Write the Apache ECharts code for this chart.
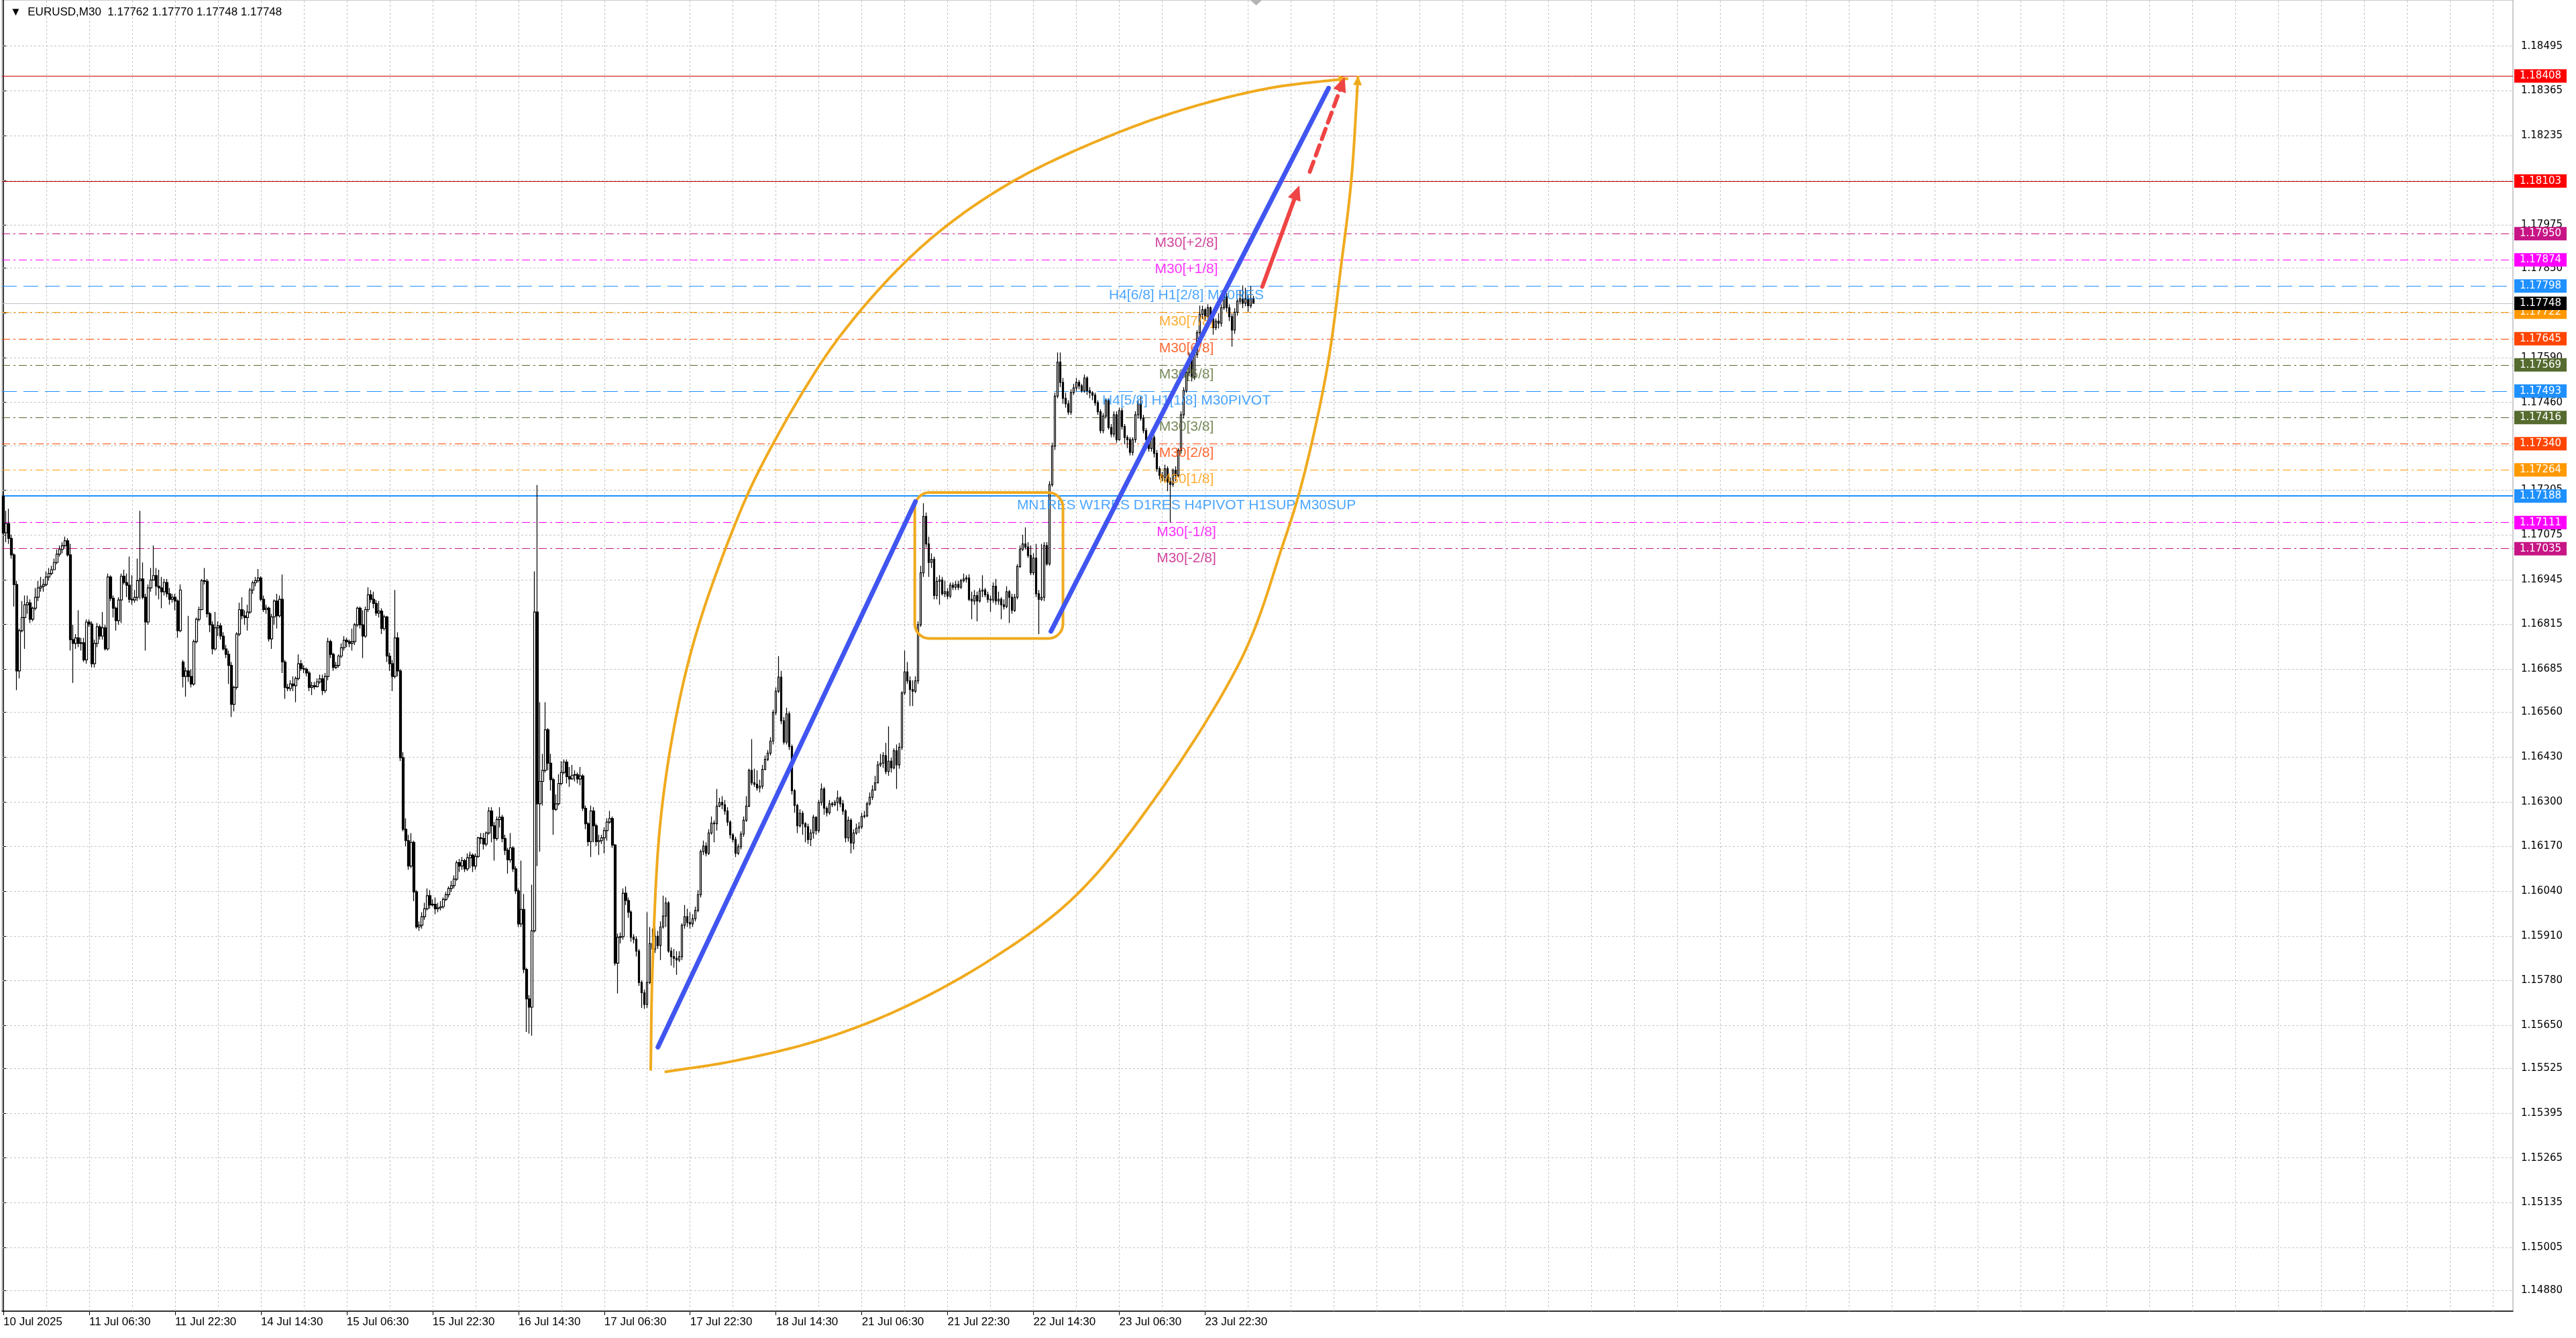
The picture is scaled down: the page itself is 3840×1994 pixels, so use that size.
<!DOCTYPE html>
<html>
<head>
<meta charset="utf-8">
<title>EURUSD,M30</title>
<script src="https://cdn.jsdelivr.net/npm/echarts@6.0.0/dist/echarts.min.js"></script>
<style>
  html, body { margin: 0; padding: 0; background: #ffffff; }
  #chart { width: 3840px; height: 1994px; }
</style>
</head>
<body>
<div id="chart"></div>
<script>
// header quote: open, high, low, close of the last bar
const symbolName = 'EURUSD';
const periodName = 'M30';
const quote = [1.17762, 1.17770, 1.17748, 1.17748];

// time axis labels (one every 32 bars of 30 min)
const timeLabelBars = [0, 32, 64, 96, 128, 160, 192, 224, 256, 288, 320, 352, 384, 416, 448];
const timeLabels = ['10 Jul 2025', '11 Jul 06:30', '11 Jul 22:30', '14 Jul 14:30', '15 Jul 06:30',
  '15 Jul 22:30', '16 Jul 14:30', '17 Jul 06:30', '17 Jul 22:30', '18 Jul 14:30',
  '21 Jul 06:30', '21 Jul 22:30', '22 Jul 14:30', '23 Jul 06:30', '23 Jul 22:30'];
const slotCount = 936;   // bar slots across the window (bars + empty shift space)
const gridStep = 16;     // vertical grid every 16 bars

// price scale
const priceTop = 1.18629;
const priceBottom = 1.1482;
const yTickLabels = ['1.14880', '1.15005', '1.15135', '1.15265', '1.15395', '1.15525', '1.15650',
  '1.15780', '1.15910', '1.16040', '1.16170', '1.16300', '1.16430', '1.16560', '1.16685', '1.16815',
  '1.16945', '1.17075', '1.17205', '1.17335', '1.17460', '1.17590', '1.17720', '1.17850', '1.17975',
  '1.18105', '1.18235', '1.18365', '1.18495'];

// candles
const open = [
1.17188,1.17081,1.17108,1.17065,1.17017,1.16931,1.16680,1.16797,1.16835,1.16872,
1.16878,1.16830,1.16862,1.16894,1.16921,1.16926,1.16931,1.16953,1.16963,1.16974,
1.16995,1.17019,1.17033,1.17044,1.17058,1.17017,1.16771,1.16760,1.16776,1.16760,
1.16762,1.16712,1.16822,1.16816,1.16701,1.16760,1.16808,1.16781,1.16805,1.16744,
1.16953,1.16891,1.16862,1.16826,1.16886,1.16955,1.16937,1.16929,1.16888,1.16886,
1.16894,1.16942,1.16947,1.16894,1.16822,1.16921,1.16944,1.16957,1.16926,1.16921,
1.16910,1.16937,1.16904,1.16888,1.16894,1.16883,1.16797,1.16706,1.16664,1.16680,
1.16664,1.16642,1.16765,1.16830,1.16858,1.16942,1.16940,1.16846,1.16814,1.16744,
1.16805,1.16811,1.16781,1.16744,1.16728,1.16696,1.16583,1.16632,1.16787,1.16858,
1.16840,1.16835,1.16851,1.16915,1.16936,1.16942,1.16950,1.16888,1.16858,1.16862,
1.16773,1.16837,1.16883,1.16840,1.16888,1.16706,1.16632,1.16629,1.16642,1.16637,
1.16658,1.16701,1.16687,1.16685,1.16674,1.16632,1.16637,1.16634,1.16648,1.16657,
1.16623,1.16664,1.16765,1.16728,1.16690,1.16696,1.16723,1.16747,1.16769,1.16765,
1.16760,1.16765,1.16814,1.16862,1.16814,1.16781,1.16858,1.16901,1.16888,1.16876,
1.16848,1.16854,1.16803,1.16837,1.16723,1.16701,1.16664,1.16776,1.16680,1.16428,
1.16220,1.16187,1.16113,1.16182,1.16038,1.15936,1.15941,1.15966,1.15989,1.16027,
1.16000,1.16002,1.15989,1.15992,1.15995,1.16016,1.16030,1.16048,1.16056,1.16075,
1.16123,1.16113,1.16129,1.16105,1.16137,1.16145,1.16113,1.16141,1.16195,1.16193,
1.16177,1.16209,1.16273,1.16230,1.16193,1.16248,1.16255,1.16193,1.16159,1.16131,
1.16166,1.16105,1.16041,1.15945,1.15987,1.15813,1.15727,1.15703,1.15925,1.16851,
1.16294,1.16359,1.16391,1.16509,1.16412,1.16364,1.16278,1.16294,1.16353,1.16385,
1.16415,1.16373,1.16366,1.16377,1.16379,1.16366,1.16375,1.16281,1.16236,1.16184,
1.16273,1.16230,1.16184,1.16187,1.16195,1.16216,1.16241,1.16251,1.16174,1.15831,
1.15906,1.15908,1.16034,1.16013,1.15979,1.15906,1.15900,1.15866,1.15775,1.15745,
1.15711,1.15775,1.15888,1.15872,1.15909,1.15882,1.15936,1.15968,1.16006,1.15866,
1.15850,1.15845,1.15840,1.15850,1.15941,1.15966,1.15949,1.15945,1.15960,1.15984,
1.16030,1.16155,1.16171,1.16150,1.16209,1.16238,1.16236,1.16287,1.16298,1.16291,
1.16273,1.16241,1.16204,1.16190,1.16150,1.16169,1.16206,1.16246,1.16287,1.16391,
1.16355,1.16351,1.16340,1.16345,1.16394,1.16423,1.16441,1.16476,1.16559,1.16621,
1.16662,1.16535,1.16473,1.16555,1.16460,1.16332,1.16289,1.16230,1.16266,1.16236,
1.16227,1.16190,1.16209,1.16255,1.16216,1.16298,1.16337,1.16281,1.16268,1.16294,
1.16291,1.16298,1.16311,1.16294,1.16273,1.16195,1.16246,1.16180,1.16209,1.16223,
1.16227,1.16257,1.16259,1.16294,1.16313,1.16334,1.16355,1.16407,1.16412,1.16434,
1.16388,1.16418,1.16398,1.16448,1.16407,1.16458,1.16616,1.16677,1.16651,1.16626,
1.16621,1.16651,1.16814,1.16965,1.17129,1.17049,1.16995,1.17004,1.16899,1.16940,
1.16944,1.16904,1.16910,1.16897,1.16929,1.16923,1.16931,1.16923,1.16942,1.16947,
1.16950,1.16888,1.16883,1.16899,1.16883,1.16912,1.16915,1.16901,1.16888,1.16886,
1.16926,1.16883,1.16888,1.16872,1.16867,1.16910,1.16894,1.16856,1.16894,1.16983,
1.17033,1.17049,1.17040,1.17015,1.16965,1.17008,1.16904,1.16888,1.16894,1.17044,
1.16991,1.17221,1.17333,1.17478,1.17577,1.17518,1.17472,1.17456,1.17432,1.17489,
1.17502,1.17518,1.17508,1.17494,1.17531,1.17494,1.17488,1.17481,1.17459,1.17433,
1.17378,1.17420,1.17465,1.17387,1.17368,1.17424,1.17352,1.17436,1.17390,1.17358,
1.17352,1.17315,1.17352,1.17424,1.17456,1.17414,1.17378,1.17352,1.17326,1.17358,
1.17312,1.17267,1.17248,1.17242,1.17267,1.17229,1.17222,1.17263,1.17248,1.17320,
1.17424,1.17495,1.17547,1.17586,1.17534,1.17599,1.17663,1.17716,1.17729,1.17709,
1.17735,1.17703,1.17677,1.17696,1.17690,1.17735,1.17767,1.17735,1.17709,1.17670,
1.17722,1.17754,1.17761,1.17748,1.17761,1.17741,1.17762];

const high = [
1.17199,1.17145,1.17151,1.17076,1.17022,1.16942,1.16803,1.16883,1.16899,1.16899,
1.16888,1.16867,1.16921,1.16942,1.16953,1.16947,1.16969,1.16979,1.16985,1.17006,
1.17033,1.17044,1.17054,1.17070,1.17065,1.17049,1.16814,1.16787,1.16856,1.16776,
1.16776,1.16830,1.16830,1.16824,1.16771,1.16819,1.16814,1.16851,1.16814,1.16963,
1.16958,1.16899,1.16867,1.16894,1.16963,1.16974,1.16963,1.17012,1.16958,1.16915,
1.17006,1.17145,1.16995,1.16904,1.16931,1.16979,1.17044,1.16979,1.16974,1.16953,
1.16947,1.16947,1.16921,1.16904,1.16904,1.16888,1.16931,1.16712,1.16690,1.16840,
1.16685,1.16771,1.16835,1.16867,1.16947,1.16979,1.16947,1.16851,1.16824,1.16851,
1.16824,1.16819,1.16792,1.16755,1.16739,1.16706,1.16637,1.16792,1.16878,1.16894,
1.16856,1.16872,1.16921,1.16942,1.16953,1.16976,1.16955,1.16899,1.16872,1.16867,
1.16846,1.16888,1.16904,1.16899,1.16960,1.16712,1.16642,1.16653,1.16664,1.16664,
1.16728,1.16712,1.16696,1.16690,1.16680,1.16648,1.16648,1.16658,1.16669,1.16669,
1.16674,1.16776,1.16771,1.16733,1.16706,1.16728,1.16760,1.16781,1.16776,1.16771,
1.16803,1.16819,1.16867,1.16867,1.16856,1.16867,1.16923,1.16915,1.16910,1.16886,
1.16883,1.16862,1.16843,1.16840,1.16733,1.16712,1.16915,1.16792,1.16685,1.16444,
1.16252,1.16204,1.16209,1.16187,1.16043,1.15952,1.15979,1.16006,1.16048,1.16043,
1.16016,1.16022,1.16006,1.16011,1.16022,1.16038,1.16054,1.16070,1.16086,1.16129,
1.16134,1.16139,1.16134,1.16150,1.16155,1.16150,1.16150,1.16198,1.16209,1.16209,
1.16214,1.16284,1.16284,1.16241,1.16257,1.16284,1.16262,1.16204,1.16166,1.16209,
1.16171,1.16113,1.16048,1.16129,1.16032,1.15818,1.15738,1.16059,1.16969,1.17220,
1.16589,1.16439,1.16589,1.16514,1.16439,1.16369,1.16321,1.16380,1.16418,1.16423,
1.16423,1.16401,1.16407,1.16391,1.16385,1.16401,1.16380,1.16289,1.16241,1.16289,
1.16284,1.16236,1.16204,1.16204,1.16225,1.16252,1.16273,1.16257,1.16177,1.15917,
1.15920,1.16048,1.16054,1.16022,1.15984,1.15915,1.15909,1.15872,1.15781,1.15754,
1.15979,1.15936,1.15931,1.15936,1.15925,1.15952,1.16027,1.16022,1.16011,1.15877,
1.15872,1.15866,1.15866,1.15947,1.16000,1.15989,1.15979,1.15973,1.15995,1.16043,
1.16161,1.16187,1.16182,1.16220,1.16257,1.16246,1.16337,1.16311,1.16316,1.16305,
1.16284,1.16246,1.16209,1.16198,1.16177,1.16214,1.16257,1.16316,1.16396,1.16482,
1.16396,1.16391,1.16364,1.16407,1.16434,1.16450,1.16487,1.16567,1.16632,1.16723,
1.16680,1.16546,1.16573,1.16562,1.16466,1.16337,1.16294,1.16278,1.16273,1.16241,
1.16236,1.16220,1.16262,1.16257,1.16305,1.16353,1.16343,1.16287,1.16305,1.16300,
1.16305,1.16332,1.16316,1.16305,1.16278,1.16257,1.16252,1.16220,1.16236,1.16241,
1.16268,1.16273,1.16300,1.16327,1.16348,1.16375,1.16418,1.16439,1.16444,1.16471,
1.16519,1.16428,1.16455,1.16466,1.16471,1.16621,1.16739,1.16706,1.16664,1.16653,
1.16664,1.16824,1.16985,1.17167,1.17140,1.17070,1.17022,1.17012,1.16953,1.16958,
1.16953,1.16942,1.16921,1.16937,1.16937,1.16942,1.16942,1.16947,1.16963,1.16958,
1.16961,1.16910,1.16915,1.16910,1.16921,1.16958,1.16921,1.16910,1.16899,1.16937,
1.16947,1.16910,1.16894,1.16888,1.16926,1.16915,1.16904,1.16904,1.16990,1.17044,
1.17076,1.17097,1.17054,1.17044,1.17022,1.17049,1.16915,1.17049,1.17054,1.17054,
1.17231,1.17343,1.17488,1.17605,1.17605,1.17531,1.17488,1.17466,1.17498,1.17514,
1.17531,1.17525,1.17514,1.17541,1.17536,1.17504,1.17493,1.17488,1.17466,1.17440,
1.17429,1.17472,1.17472,1.17397,1.17434,1.17434,1.17445,1.17445,1.17397,1.17365,
1.17359,1.17359,1.17434,1.17466,1.17477,1.17424,1.17386,1.17359,1.17370,1.17365,
1.17322,1.17274,1.17258,1.17279,1.17274,1.17242,1.17268,1.17274,1.17327,1.17434,
1.17504,1.17557,1.17605,1.17595,1.17605,1.17670,1.17741,1.17741,1.17734,1.17745,
1.17739,1.17712,1.17704,1.17718,1.17745,1.17775,1.17777,1.17745,1.17718,1.17734,
1.17761,1.17787,1.17800,1.17793,1.17771,1.17798,1.17770];

const low = [
1.17076,1.17054,1.17049,1.17006,1.16867,1.16624,1.16658,1.16792,1.16744,1.16846,
1.16819,1.16824,1.16856,1.16883,1.16910,1.16910,1.16926,1.16942,1.16958,1.16974,
1.16990,1.17012,1.17022,1.17038,1.17012,1.16739,1.16645,1.16744,1.16749,1.16739,
1.16706,1.16701,1.16808,1.16690,1.16690,1.16749,1.16771,1.16771,1.16739,1.16739,
1.16883,1.16835,1.16797,1.16814,1.16819,1.16931,1.16894,1.16878,1.16872,1.16878,
1.16883,1.16888,1.16888,1.16739,1.16814,1.16910,1.16942,1.16899,1.16888,1.16862,
1.16899,1.16894,1.16872,1.16878,1.16856,1.16776,1.16792,1.16632,1.16605,1.16648,
1.16632,1.16637,1.16760,1.16824,1.16856,1.16931,1.16835,1.16792,1.16728,1.16739,
1.16781,1.16771,1.16739,1.16717,1.16642,1.16546,1.16562,1.16626,1.16781,1.16830,
1.16814,1.16797,1.16846,1.16904,1.16926,1.16937,1.16883,1.16851,1.16846,1.16765,
1.16744,1.16814,1.16803,1.16835,1.16674,1.16599,1.16621,1.16621,1.16621,1.16589,
1.16653,1.16680,1.16674,1.16664,1.16621,1.16610,1.16626,1.16632,1.16642,1.16610,
1.16616,1.16653,1.16717,1.16680,1.16685,1.16690,1.16717,1.16739,1.16749,1.16749,
1.16739,1.16755,1.16808,1.16803,1.16717,1.16776,1.16851,1.16878,1.16862,1.16840,
1.16835,1.16787,1.16797,1.16706,1.16680,1.16621,1.16658,1.16664,1.16418,1.16214,
1.16171,1.16102,1.16107,1.16011,1.15931,1.15925,1.15931,1.15957,1.15984,1.15989,
1.15995,1.15973,1.15979,1.15984,1.15989,1.16011,1.16022,1.16038,1.16048,1.16070,
1.16096,1.16102,1.16096,1.16099,1.16107,1.16096,1.16102,1.16137,1.16177,1.16161,
1.16171,1.16204,1.16182,1.16129,1.16187,1.16225,1.16182,1.16145,1.16091,1.16123,
1.16096,1.16032,1.15936,1.15936,1.15802,1.15631,1.15626,1.15620,1.15920,1.16113,
1.16155,1.16289,1.16385,1.16391,1.16332,1.16204,1.16273,1.16289,1.16348,1.16380,
1.16353,1.16343,1.16364,1.16359,1.16353,1.16348,1.16273,1.16220,1.16171,1.16139,
1.16182,1.16171,1.16145,1.16177,1.16150,1.16187,1.16236,1.16166,1.15824,1.15743,
1.15888,1.15899,1.16000,1.15963,1.15893,1.15888,1.15850,1.15765,1.15701,1.15698,
1.15701,1.15770,1.15781,1.15861,1.15872,1.15840,1.15931,1.15936,1.15861,1.15824,
1.15818,1.15797,1.15834,1.15840,1.15931,1.15936,1.15931,1.15936,1.15952,1.15979,
1.16022,1.16145,1.16141,1.16145,1.16204,1.16182,1.16216,1.16284,1.16278,1.16262,
1.16230,1.16193,1.16182,1.16139,1.16145,1.16161,1.16198,1.16241,1.16284,1.16348,
1.16343,1.16332,1.16327,1.16337,1.16391,1.16418,1.16434,1.16466,1.16551,1.16616,
1.16525,1.16466,1.16466,1.16450,1.16321,1.16268,1.16209,1.16225,1.16204,1.16182,
1.16177,1.16171,1.16193,1.16204,1.16209,1.16289,1.16262,1.16257,1.16262,1.16284,
1.16287,1.16273,1.16284,1.16262,1.16182,1.16184,1.16150,1.16161,1.16204,1.16209,
1.16220,1.16252,1.16255,1.16289,1.16305,1.16332,1.16353,1.16401,1.16398,1.16380,
1.16375,1.16385,1.16394,1.16337,1.16396,1.16450,1.16610,1.16642,1.16578,1.16578,
1.16616,1.16642,1.16808,1.16953,1.17038,1.16953,1.16979,1.16888,1.16888,1.16872,
1.16899,1.16894,1.16888,1.16891,1.16915,1.16915,1.16915,1.16918,1.16937,1.16937,
1.16883,1.16830,1.16872,1.16824,1.16878,1.16894,1.16894,1.16878,1.16851,1.16878,
1.16872,1.16872,1.16830,1.16858,1.16862,1.16819,1.16846,1.16851,1.16888,1.16979,
1.17028,1.17033,1.17008,1.16958,1.16958,1.16894,1.16787,1.16883,1.16883,1.16985,
1.16985,1.17215,1.17322,1.17472,1.17504,1.17456,1.17445,1.17424,1.17424,1.17482,
1.17493,1.17498,1.17488,1.17488,1.17482,1.17472,1.17466,1.17450,1.17424,1.17370,
1.17370,1.17413,1.17381,1.17359,1.17359,1.17343,1.17349,1.17381,1.17338,1.17327,
1.17306,1.17306,1.17343,1.17413,1.17407,1.17370,1.17343,1.17317,1.17317,1.17300,
1.17258,1.17236,1.17231,1.17231,1.17202,1.17111,1.17215,1.17231,1.17242,1.17311,
1.17413,1.17488,1.17536,1.17521,1.17525,1.17589,1.17654,1.17702,1.17696,1.17702,
1.17691,1.17657,1.17670,1.17675,1.17680,1.17729,1.17723,1.17696,1.17622,1.17659,
1.17712,1.17745,1.17734,1.17739,1.17723,1.17734,1.17748];

const close = [
1.17081,1.17108,1.17065,1.17017,1.16931,1.16680,1.16797,1.16835,1.16872,1.16878,
1.16830,1.16862,1.16894,1.16921,1.16926,1.16931,1.16953,1.16963,1.16974,1.16995,
1.17019,1.17033,1.17044,1.17058,1.17017,1.16771,1.16760,1.16776,1.16760,1.16762,
1.16712,1.16822,1.16816,1.16701,1.16760,1.16808,1.16781,1.16805,1.16744,1.16953,
1.16891,1.16862,1.16826,1.16886,1.16955,1.16937,1.16929,1.16888,1.16886,1.16894,
1.16942,1.16947,1.16894,1.16822,1.16921,1.16944,1.16957,1.16926,1.16921,1.16910,
1.16937,1.16904,1.16888,1.16894,1.16883,1.16797,1.16915,1.16664,1.16680,1.16664,
1.16642,1.16765,1.16830,1.16858,1.16942,1.16940,1.16846,1.16814,1.16744,1.16805,
1.16811,1.16781,1.16744,1.16728,1.16696,1.16583,1.16632,1.16787,1.16858,1.16840,
1.16835,1.16851,1.16915,1.16936,1.16942,1.16950,1.16888,1.16858,1.16862,1.16773,
1.16837,1.16883,1.16840,1.16888,1.16706,1.16632,1.16629,1.16642,1.16637,1.16658,
1.16701,1.16687,1.16685,1.16674,1.16632,1.16637,1.16634,1.16648,1.16657,1.16623,
1.16664,1.16765,1.16728,1.16690,1.16696,1.16723,1.16747,1.16769,1.16765,1.16760,
1.16765,1.16814,1.16862,1.16814,1.16781,1.16858,1.16901,1.16888,1.16876,1.16848,
1.16854,1.16803,1.16837,1.16723,1.16701,1.16664,1.16776,1.16680,1.16428,1.16220,
1.16187,1.16113,1.16182,1.16038,1.15936,1.15941,1.15966,1.15989,1.16027,1.16000,
1.16002,1.15989,1.15992,1.15995,1.16016,1.16030,1.16048,1.16056,1.16075,1.16123,
1.16113,1.16129,1.16105,1.16137,1.16145,1.16113,1.16141,1.16195,1.16193,1.16177,
1.16209,1.16273,1.16230,1.16193,1.16248,1.16255,1.16193,1.16159,1.16131,1.16166,
1.16105,1.16041,1.15945,1.15987,1.15813,1.15727,1.15703,1.15925,1.16851,1.16294,
1.16359,1.16391,1.16509,1.16412,1.16364,1.16278,1.16294,1.16353,1.16385,1.16415,
1.16373,1.16366,1.16377,1.16379,1.16366,1.16375,1.16281,1.16236,1.16184,1.16273,
1.16230,1.16184,1.16187,1.16195,1.16216,1.16241,1.16251,1.16174,1.15831,1.15906,
1.15908,1.16034,1.16013,1.15979,1.15906,1.15900,1.15866,1.15775,1.15745,1.15711,
1.15775,1.15888,1.15872,1.15909,1.15882,1.15936,1.15968,1.16006,1.15866,1.15850,
1.15845,1.15840,1.15850,1.15941,1.15966,1.15949,1.15945,1.15960,1.15984,1.16030,
1.16155,1.16171,1.16150,1.16209,1.16238,1.16236,1.16287,1.16298,1.16291,1.16273,
1.16241,1.16204,1.16190,1.16150,1.16169,1.16206,1.16246,1.16287,1.16391,1.16355,
1.16351,1.16340,1.16345,1.16394,1.16423,1.16441,1.16476,1.16559,1.16621,1.16662,
1.16535,1.16473,1.16555,1.16460,1.16332,1.16289,1.16230,1.16266,1.16236,1.16227,
1.16190,1.16209,1.16255,1.16216,1.16298,1.16337,1.16281,1.16268,1.16294,1.16291,
1.16298,1.16311,1.16294,1.16273,1.16195,1.16246,1.16180,1.16209,1.16223,1.16227,
1.16257,1.16259,1.16294,1.16313,1.16334,1.16355,1.16407,1.16412,1.16434,1.16388,
1.16418,1.16398,1.16448,1.16407,1.16458,1.16616,1.16677,1.16651,1.16626,1.16621,
1.16651,1.16814,1.16965,1.17129,1.17049,1.16995,1.17004,1.16899,1.16940,1.16944,
1.16904,1.16910,1.16897,1.16929,1.16923,1.16931,1.16923,1.16942,1.16947,1.16950,
1.16888,1.16883,1.16899,1.16883,1.16912,1.16915,1.16901,1.16888,1.16886,1.16926,
1.16883,1.16888,1.16872,1.16867,1.16910,1.16894,1.16856,1.16894,1.16983,1.17033,
1.17049,1.17040,1.17015,1.16965,1.17008,1.16904,1.16888,1.16894,1.17044,1.16991,
1.17221,1.17333,1.17478,1.17577,1.17518,1.17472,1.17456,1.17432,1.17489,1.17502,
1.17518,1.17508,1.17494,1.17531,1.17494,1.17488,1.17481,1.17459,1.17433,1.17378,
1.17420,1.17465,1.17387,1.17368,1.17424,1.17352,1.17436,1.17390,1.17358,1.17352,
1.17315,1.17352,1.17424,1.17456,1.17414,1.17378,1.17352,1.17326,1.17358,1.17312,
1.17267,1.17248,1.17242,1.17267,1.17229,1.17222,1.17263,1.17248,1.17320,1.17424,
1.17495,1.17547,1.17586,1.17534,1.17599,1.17663,1.17716,1.17729,1.17709,1.17735,
1.17703,1.17677,1.17696,1.17690,1.17735,1.17767,1.17735,1.17709,1.17670,1.17722,
1.17754,1.17761,1.17748,1.17761,1.17741,1.17762,1.17748];

// support / resistance levels drawn by the indicator
const levelPrices = [1.18408, 1.18103, 1.17950, 1.17874, 1.17798, 1.17722, 1.17645, 1.17569,
  1.17493, 1.17416, 1.17340, 1.17264, 1.17188, 1.17111, 1.17035];
const levelNames = ['', '', 'M30[+2/8]', 'M30[+1/8]', 'H4[6/8] H1[2/8] M30RES', 'M30[7/8]', 'M30[6/8]',
  'M30[5/8]', 'H4[5/8] H1[1/8] M30PIVOT', 'M30[3/8]', 'M30[2/8]', 'M30[1/8]',
  'MN1RES W1RES D1RES H4PIVOT H1SUP M30SUP', 'M30[-1/8]', 'M30[-2/8]'];
const levelColors = ['#ff0000', '#ff0000', '#c71585', '#ff00ff', '#1e90ff', '#ff9900', '#ff4500',
  '#556b2f', '#1e90ff', '#556b2f', '#ff4500', '#ff9900', '#1e90ff', '#ff00ff', '#c71585'];
const levelStyles = ['solid', 'solid', 'dashdot', 'dashdot', 'dash', 'dashdot', 'dashdot', 'dashdot',
  'dash', 'dashdot', 'dashdot', 'dashdot', 'solid', 'dashdot', 'dashdot'];
const levelLabelBar = 441;
const bidPrice = 1.17748;

// hand-drawn objects, in [bar, price]
const trendLines = [[244, 1.15587, 340, 1.17172], [390.5, 1.16795, 494, 1.18373]];
const solidArrow = [469.3, 1.17796, 483.1, 1.18090];
const dashedArrow = [487, 1.18130, 500, 1.18405];
const upperArc = [[241.3, 1.15519], [242, 1.15820], [245, 1.16247], [251.3, 1.16567], [259.3, 1.16815],
  [272.8, 1.17107], [281.75, 1.17263], [298, 1.17490], [311.25, 1.17646], [331.25, 1.17829],
  [350.8, 1.17968], [376.3, 1.18102], [408.3, 1.18221], [440, 1.18311], [472, 1.18373], [501.3, 1.18401]];
const lowerArc = [[246.5, 1.15515], [271.8, 1.15546], [304, 1.15607], [335.3, 1.15701], [368.8, 1.15845],
  [398.8, 1.16020], [427.3, 1.16288], [462, 1.16723], [476.8, 1.17043], [483.8, 1.17218],
  [493.3, 1.17552], [498.8, 1.17865], [502.5, 1.18108], [505, 1.18409]];
const rangeBox = [339.75, 1.17198, 395, 1.16774];
const shiftMarkerBar = 467;

const BLUE = '#4055f0';
const ORANGE = '#f0aa1e';
const RED = '#ef4444';

const labelAt = new Map(timeLabelBars.map((b, i) => [b, timeLabels[i]]));
const categories = Array.from({ length: slotCount }, (_, i) => String(i));
const candles = open.map((o, i) => [o, close[i], low[i], high[i]]);
const yTicks = yTickLabels.map(Number);

function dashOf(style) {
  if (style === 'dash') return [22, 10];
  if (style === 'dashdot') return [12, 5, 3, 5];
  return 'solid';
}

const gridMarks = yTicks.map(v => ({ yAxis: v }));
for (let b = gridStep; b < slotCount; b += gridStep) gridMarks.push({ xAxis: b });

const levelMarks = levelPrices.map((p, i) => ({
  yAxis: p,
  lineStyle: {
    color: levelColors[i] === '#ff0000' ? '#c80000' : levelColors[i],
    type: dashOf(levelStyles[i]),
    width: i === 12 ? 2 : 1
  },
  label: { backgroundColor: levelColors[i] }
}));
levelMarks.push({
  yAxis: bidPrice,
  lineStyle: { color: '#c0c0c0', type: 'solid', width: 1 },
  label: { backgroundColor: '#000000' }
});

const levelTexts = [];
levelPrices.forEach((p, i) => {
  if (!levelNames[i]) return;
  levelTexts.push({ name: levelNames[i], value: [levelLabelBar, p], label: { color: levelColors[i] } });
});

// centripetal Catmull-Rom through the read points, in pixel space
function spline(P, steps) {
  const out = [];
  const dist = (a, b) => Math.max(Math.sqrt(Math.hypot(b[0] - a[0], b[1] - a[1])), 1e-3);
  const mix = (a, b, ta, tb, t) => [
    ((tb - t) * a[0] + (t - ta) * b[0]) / (tb - ta),
    ((tb - t) * a[1] + (t - ta) * b[1]) / (tb - ta)
  ];
  const n = P.length;
  for (let i = 0; i < n - 1; i++) {
    const p1 = P[i], p2 = P[i + 1];
    const p0 = i > 0 ? P[i - 1] : [2 * p1[0] - p2[0], 2 * p1[1] - p2[1]];
    const p3 = i + 2 < n ? P[i + 2] : [2 * p2[0] - p1[0], 2 * p2[1] - p1[1]];
    const t0 = 0, t1 = t0 + dist(p0, p1), t2 = t1 + dist(p1, p2), t3 = t2 + dist(p2, p3);
    for (let s = 0; s < steps; s++) {
      const t = t1 + (t2 - t1) * s / steps;
      const A1 = mix(p0, p1, t0, t1, t), A2 = mix(p1, p2, t1, t2, t), A3 = mix(p2, p3, t2, t3, t);
      const B1 = mix(A1, A2, t0, t2, t), B2 = mix(A2, A3, t1, t3, t);
      out.push(mix(B1, B2, t1, t2, t));
    }
  }
  out.push(P[n - 1]);
  return out;
}

function arrowHead(from, to, len, wid, color) {
  const dx = to[0] - from[0], dy = to[1] - from[1];
  const d = Math.hypot(dx, dy) || 1;
  const ux = dx / d, uy = dy / d;
  const bx = to[0] - ux * len, by = to[1] - uy * len;
  return {
    type: 'polygon',
    shape: { points: [to, [bx - uy * wid / 2, by + ux * wid / 2], [bx + uy * wid / 2, by - ux * wid / 2]] },
    style: { fill: color }
  };
}

function renderDrawings(params, api) {
  const pt = (b, p) => api.coord([b, p]);
  const kids = [];

  // range box
  const a = pt(rangeBox[0], rangeBox[1]), c = pt(rangeBox[2], rangeBox[3]);
  kids.push({ type: 'rect', shape: { x: a[0], y: a[1], width: c[0] - a[0], height: c[1] - a[1], r: 22 },
    style: { fill: 'none', stroke: ORANGE, lineWidth: 4 } });

  // arcs with arrow ends
  [upperArc, lowerArc].forEach(arc => {
    const pts = spline(arc.map(q => pt(q[0], q[1])), 20);
    kids.push({ type: 'polyline', shape: { points: pts },
      style: { stroke: ORANGE, lineWidth: 4, fill: 'none', lineJoin: 'round' } });
    kids.push(arrowHead(pts[pts.length - 4], pts[pts.length - 1], 14, 13, ORANGE));
  });

  // trend lines
  trendLines.forEach(t => {
    const p1 = pt(t[0], t[1]), p2 = pt(t[2], t[3]);
    kids.push({ type: 'line', shape: { x1: p1[0], y1: p1[1], x2: p2[0], y2: p2[1] },
      style: { stroke: BLUE, lineWidth: 7, lineCap: 'round' } });
  });

  // projected moves
  [[solidArrow, null], [dashedArrow, [16, 10]]].forEach(([arr, dash]) => {
    const p1 = pt(arr[0], arr[1]), tip = pt(arr[2], arr[3]);
    const dx = tip[0] - p1[0], dy = tip[1] - p1[1], d = Math.hypot(dx, dy);
    const end = [tip[0] - dx / d * 18, tip[1] - dy / d * 18];
    kids.push({ type: 'line', shape: { x1: p1[0], y1: p1[1], x2: end[0], y2: end[1] },
      style: { stroke: RED, lineWidth: 6, lineCap: 'round', lineDash: dash || null } });
    kids.push(arrowHead(p1, tip, 22, 20, RED));
  });

  // chart shift marker at the top
  const m = pt(shiftMarkerBar, priceTop);
  kids.push({ type: 'polygon', shape: { points: [[m[0] - 9, m[1]], [m[0] + 9, m[1]], [m[0], m[1] + 8]] },
    style: { fill: '#b4b4b4' } });

  return { type: 'group', children: kids };
}

const chart = echarts.init(document.getElementById('chart'), null, { width: 3840, height: 1994 });
chart.setOption({
  animation: false,
  backgroundColor: '#ffffff',
  title: {
    text: '\u25BC  ' + symbolName + ',' + periodName + '  ' + quote.map(v => v.toFixed(5)).join(' '),
    left: 10, top: 5,
    textStyle: { fontSize: 17, fontWeight: 'normal', fontFamily: 'Liberation Sans', color: '#000000' }
  },
  grid: { left: 3, right: 94, top: 0, bottom: 40, show: true, borderColor: '#9a9a9a', borderWidth: 1,
    backgroundColor: '#ffffff' },
  xAxis: [{
    type: 'category',
    data: categories,
    boundaryGap: true,
    axisLine: { show: true, lineStyle: { color: '#000000', width: 1.5 } },
    axisTick: { show: true, alignWithLabel: true, interval: i => labelAt.has(i), length: 6,
      lineStyle: { color: '#000000' } },
    axisLabel: { interval: i => labelAt.has(i), formatter: (v, i) => labelAt.get(i) || '',
      align: 'left', fontSize: 17, fontFamily: 'Liberation Sans', color: '#000000', margin: 8 },
    splitLine: { show: false }
  }, {
    type: 'value', min: -0.5, max: slotCount - 0.5, show: false
  }],
  yAxis: {
    type: 'value',
    position: 'right',
    min: priceBottom,
    max: priceTop,
    axisLine: { show: true, lineStyle: { color: '#000000', width: 1.5 } },
    axisTick: { show: true, length: 5, customValues: yTicks, lineStyle: { color: '#000000' } },
    axisLabel: { customValues: yTicks, formatter: v => v.toFixed(5), color: '#000000', fontSize: 15,
      fontFamily: 'DejaVu Sans', margin: 12 },
    splitLine: { show: false }
  },
  series: [{
    name: 'grid',
    type: 'line',
    xAxisIndex: 1,
    data: [],
    silent: true,
    z: 1,
    markLine: {
      silent: true, symbol: 'none', z: 1, animation: false, precision: 5,
      label: { show: false },
      lineStyle: { color: '#c4c4c4', type: [3, 3], width: 1 },
      data: gridMarks
    }
  }, {
    name: 'levels',
    type: 'line',
    xAxisIndex: 1,
    data: [],
    silent: true,
    z: 2,
    markLine: {
      silent: true, symbol: 'none', z: 2, animation: false, precision: 5,
      label: {
        show: true, position: 'end', distance: 2,
        formatter: p => Number(p.value).toFixed(5),
        color: '#ffffff', fontSize: 15, fontFamily: 'DejaVu Sans', lineHeight: 16,
        padding: [2, 8, 2, 8]
      },
      data: levelMarks
    }
  }, {
    name: 'EURUSD',
    type: 'candlestick',
    xAxisIndex: 0,
    data: candles,
    barWidth: 3,
    z: 3,
    itemStyle: { color: '#ffffff', color0: '#000000', borderColor: '#000000', borderColor0: '#000000',
      borderWidth: 1.2 }
  }, {
    name: 'level names',
    type: 'scatter',
    xAxisIndex: 1,
    data: levelTexts,
    symbolSize: 1,
    silent: true,
    z: 5,
    itemStyle: { color: 'rgba(0,0,0,0)' },
    label: { show: true, position: 'bottom', distance: 3, formatter: p => p.name, fontSize: 21,
      fontFamily: 'Liberation Sans' }
  }, {
    name: 'drawings',
    type: 'custom',
    xAxisIndex: 1,
    data: [[0, priceBottom]],
    silent: true,
    z: 6,
    renderItem: renderDrawings
  }]
});
</script>
</body>
</html>
